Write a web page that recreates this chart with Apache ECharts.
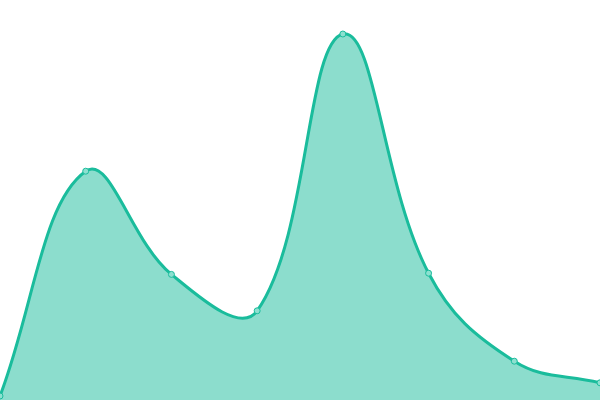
<!DOCTYPE html>
<html><head><meta charset="utf-8">
<script src="https://cdn.jsdelivr.net/npm/echarts@6/dist/echarts.min.js"></script>
<style>html,body{margin:0;padding:0;background:#fff}#c{width:600px;height:400px}</style>
</head><body><div id="c"></div>
<script>
const categories = ['A','B','C','D','E','F','G','H'];
const values = [1.0, 57.2, 31.4, 22.3, 91.5, 31.7, 9.7, 4.3];
const tension = 0.4;

function renderCurve(params, api) {
  if (params.dataIndex !== 0) return;
  const n = categories.length;
  const pts = [];
  for (let i = 0; i < n; i++) pts.push(api.coord([i, api.value(1, i)]));
  const cs = params.coordSys;
  const clampX = v => Math.min(Math.max(v, cs.x), cs.x + cs.width);
  const clampY = v => Math.min(Math.max(v, cs.y), cs.y + cs.height);
  const cps = pts.map((p, i) => {
    const prev = pts[i - 1] || p, next = pts[i + 1] || p;
    const d01 = Math.hypot(p[0] - prev[0], p[1] - prev[1]);
    const d12 = Math.hypot(next[0] - p[0], next[1] - p[1]);
    let s01 = d01 / (d01 + d12), s12 = d12 / (d01 + d12);
    if (isNaN(s01)) s01 = 0;
    if (isNaN(s12)) s12 = 0;
    const fa = tension * s01, fb = tension * s12;
    return {
      prev: [clampX(p[0] - fa * (next[0] - prev[0])), clampY(p[1] - fa * (next[1] - prev[1]))],
      next: [clampX(p[0] + fb * (next[0] - prev[0])), clampY(p[1] + fb * (next[1] - prev[1]))]
    };
  });
  let d = 'M' + pts[0][0] + ' ' + pts[0][1];
  for (let i = 1; i < n; i++) {
    d += ' C' + cps[i - 1].next[0] + ' ' + cps[i - 1].next[1] + ' ' +
         cps[i].prev[0] + ' ' + cps[i].prev[1] + ' ' + pts[i][0] + ' ' + pts[i][1];
  }
  const base = api.coord([0, 0])[1];
  const area = d + ' L' + pts[n - 1][0] + ' ' + base + ' L' + pts[0][0] + ' ' + base + ' Z';
  return {
    type: 'group',
    children: [
      {type: 'path', shape: {pathData: area}, style: {fill: 'rgba(26,188,156,0.5)', stroke: 'none'}},
      {type: 'path', shape: {pathData: d}, style: {fill: 'none', stroke: '#1abc9c', lineWidth: 3, lineJoin: 'round'}}
    ]
  };
}

const chart = echarts.init(document.getElementById('c'));
chart.setOption({
  animation: false,
  grid: {left: 0, right: 0, top: 0, bottom: 0},
  xAxis: {type: 'category', data: categories, boundaryGap: false, show: false},
  yAxis: {type: 'value', min: 0, max: 100, show: false},
  series: [
    {type: 'custom', renderItem: renderCurve, data: values.map((v, i) => [i, v]), z: 1},
    {type: 'scatter', data: values.map((v, i) => [i, v]), symbol: 'circle', symbolSize: 6, z: 3,
     itemStyle: {color: '#8de0d0', borderColor: '#1abc9c', borderWidth: 1, opacity: 1}}
  ]
});
</script></body></html>
